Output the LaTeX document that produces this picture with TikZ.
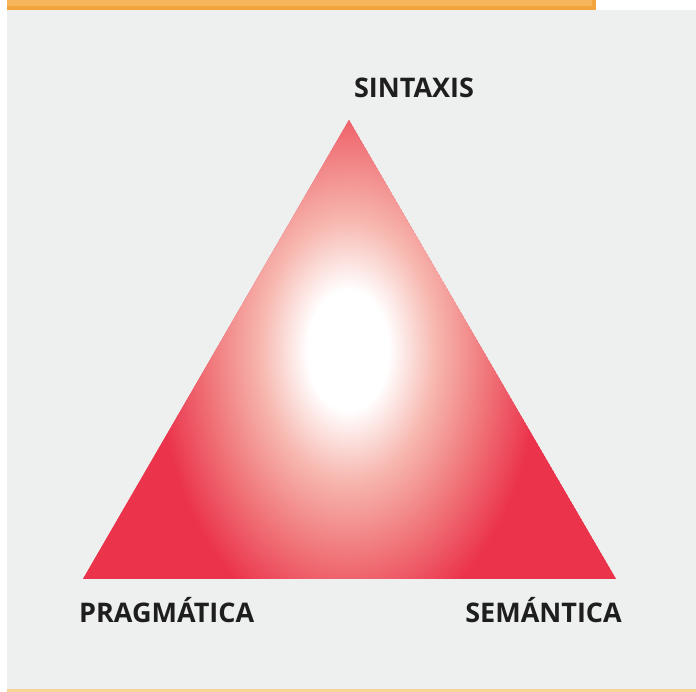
\documentclass[tikz,border=0pt]{standalone}
\usepackage{fontspec}
\setmainfont{Open Sans}
\definecolor{bgray}{HTML}{EEF0EF}
\definecolor{obar}{HTML}{F2A53C}
\definecolor{olite}{HTML}{F7B65C}
\definecolor{oline}{HTML}{F5D596}
\definecolor{trired}{HTML}{EB334C}
\definecolor{tripink}{HTML}{F7B8B0}
\definecolor{trisalmon}{HTML}{F0767A}
\definecolor{labelc}{HTML}{1E1E1E}
\pgfdeclareradialshading{trishade}{\pgfpoint{0bp}{0bp}}{color(0bp)=(white); color(3.5bp)=(white); color(7.5bp)=(tripink); color(12bp)=(trisalmon); color(16.5bp)=(trired); color(50bp)=(trired)}
\tikzset{lbl/.style={font=\bfseries\fontsize{27}{30}\selectfont, text=labelc, inner sep=0pt, anchor=base}}
\begin{document}
\begin{tikzpicture}[x=1pt,y=1pt]
\useasboundingbox (0,0) rectangle (696,692);
\fill[white] (0,0) rectangle (696,692);
\fill[bgray] (7,3) rectangle (696,682);
\fill[oline] (7,0) rectangle (696,3);
\fill[obar] (7,682) rectangle (596,692);
\fill[olite] (7,686) rectangle (592,692);
\coordinate (apex) at (349,572);
\coordinate (bl) at (83,113);
\coordinate (br) at (616,113);
\begin{scope}
\clip (apex) -- (br) -- (bl) -- cycle;
\fill[trired] (apex) -- (br) -- (bl) -- cycle;
\shade[shading=trishade] (58,-88) rectangle (638,772);
\end{scope}
\node[lbl] (sin) at (414,594) {SINTAXIS};
\node[lbl, anchor=base west] (prag) at (79,69) {PRAGMÁTICA};
\node[lbl, anchor=base east] (sem) at (622,69) {SEMÁNTICA};
\end{tikzpicture}
\end{document}
